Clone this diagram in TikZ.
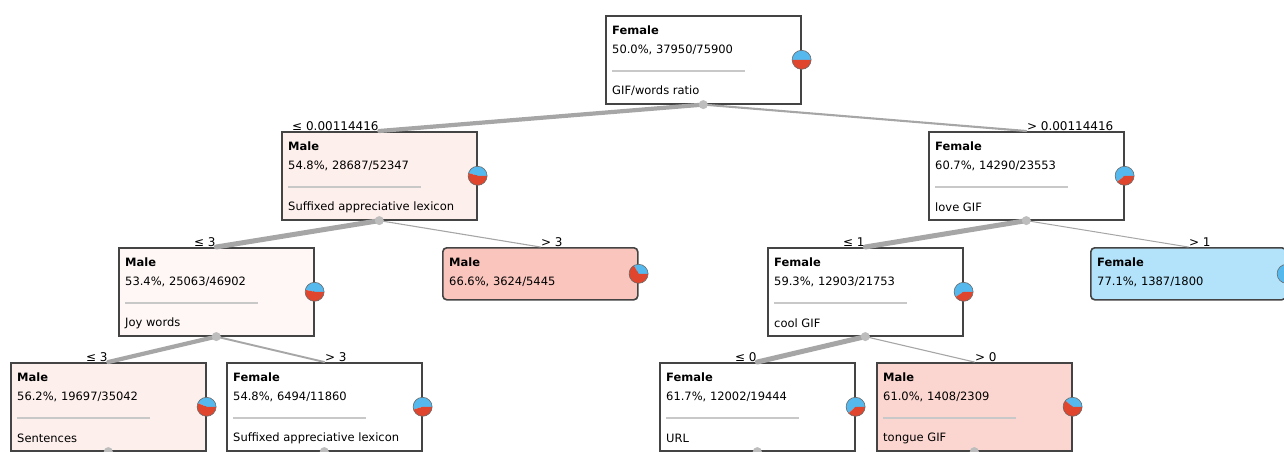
\documentclass[tikz,border=0pt]{standalone}
\usepackage{fontspec}
\setmainfont{DejaVu Sans}
\usepackage{tikz}
\usetikzlibrary{calc}
\usetikzlibrary{positioning}

\definecolor{edgegray}{HTML}{A6A6A6}
\definecolor{dotgray}{HTML}{BDBDBD}
\definecolor{boxline}{HTML}{444444}
\definecolor{sepgray}{HTML}{C8C8C8}
\definecolor{pieblue}{HTML}{55B9EE}
\definecolor{piered}{HTML}{E0452D}
\definecolor{malefaint}{HTML}{FEF7F6}
\definecolor{malelight}{HTML}{FDEFEC}
\definecolor{malemid}{HTML}{FBD6D0}
\definecolor{malestrong}{HTML}{F9C5BD}
\definecolor{femalestrong}{HTML}{B3E3FA}

\tikzset{
  every node/.style={font=\fontsize{11.5}{13}\selectfont},
  split/.style={draw=boxline,line width=1.6pt,fill=white,minimum width=195pt,
    minimum height=88pt,inner sep=0pt,anchor=north west},
  leaf/.style={split,rounded corners=4pt,minimum height=52pt},
  cls/.style={anchor=west,inner sep=0pt,font=\fontsize{11.5}{13}\selectfont\bfseries},
  txt/.style={anchor=west,inner sep=0pt},
  branch/.style={draw=edgegray,line cap=round},
  cut/.style={inner sep=0.5pt,font=\fontsize{12}{13}\selectfont},
}

% text inside one box: name, class, stats, attribute
\newcommand{\boxtext}[4]{%
  \node[cls] (#1-cls) at ($(#1.north west)+(7,-15)$) {#2};
  \node[txt] (#1-pct) at ($(#1.north west)+(7,-35)$) {#3};
  \ifx&#4&\else
    \draw[sepgray,line width=1.4pt] ($(#1.north west)+(7,-56)$) -- ($(#1.north west)+(140,-56)$);
    \node[txt] (#1-att) at ($(#1.north west)+(7,-76)$) {#4};
  \fi
}
% pie on the right side: name, female share in degrees
\newcommand{\genderpie}[2]{%
  \fill[pieblue] (#1.east) -- ++(0:9.5pt) arc (0:#2:9.5pt) -- cycle;
  \fill[piered] (#1.east) -- ++(#2:9.5pt) arc (#2:360:9.5pt) -- cycle;
  \draw[boxline!80,line width=0.6pt] (#1.east) circle (9.5pt);
}

\begin{document}
\begin{tikzpicture}[x=1pt,y=1pt]
\useasboundingbox (0,0) rectangle (1284,-452);
\clip (0,0) rectangle (1284,-452);

% boxes
\node[split] (n0) at (605,-15) {};
\node[split,fill=malelight] (n1) at (281,-131) {};
\node[split] (n2) at (928,-131) {};
\node[split,fill=malefaint] (n11) at (118,-247) {};
\node[leaf,fill=malestrong] (n12) at (442,-247) {};
\node[split] (n21) at (767,-247) {};
\node[leaf,fill=femalestrong] (n22) at (1090,-247) {};
\node[split,fill=malelight] (n111) at (10,-362) {};
\node[split] (n112) at (226,-362) {};
\node[split] (n211) at (659,-362) {};
\node[split,fill=malemid] (n212) at (876,-362) {};

% branches
\draw[branch,line width=4.2pt] (n0.south) -- (n1.north);
\draw[branch,line width=2.1pt] (n0.south) -- (n2.north);
\draw[branch,line width=5pt] (n1.south) -- (n11.north);
\draw[branch,line width=1.1pt] (n1.south) -- (n12.north);
\draw[branch,line width=5pt] (n2.south) -- (n21.north);
\draw[branch,line width=1pt] (n2.south) -- (n22.north);
\draw[branch,line width=4.2pt] (n11.south) -- (n111.north);
\draw[branch,line width=1.9pt] (n11.south) -- (n112.north);
\draw[branch,line width=5pt] (n21.south) -- (n211.north);
\draw[branch,line width=1.1pt] (n21.south) -- (n212.north);
\foreach \n in {n0,n1,n2,n11,n21,n111,n112,n211,n212}
  \fill[dotgray] (\n.south) circle (4.5pt);

% branch labels
\node[cut,anchor=south east] (c1) at (n1.north) {≤ 0.00114416};
\node[cut,anchor=south west] (c2) at (n2.north) {> 0.00114416};
\node[cut,anchor=south east] (c11) at (n11.north) {≤ 3};
\node[cut,anchor=south west] (c12) at (n12.north) {> 3};
\node[cut,anchor=south east] (c21) at (n21.north) {≤ 1};
\node[cut,anchor=south west] (c22) at (n22.north) {> 1};
\node[cut,anchor=south east] (c111) at (n111.north) {≤ 3};
\node[cut,anchor=south west] (c112) at (n112.north) {> 3};
\node[cut,anchor=south east] (c211) at (n211.north) {≤ 0};
\node[cut,anchor=south west] (c212) at (n212.north) {> 0};

% texts
\boxtext{n0}{Female}{50.0\%, 37950/75900}{GIF/words ratio}
\boxtext{n1}{Male}{54.8\%, 28687/52347}{Suffixed appreciative lexicon}
\boxtext{n2}{Female}{60.7\%, 14290/23553}{love GIF}
\boxtext{n11}{Male}{53.4\%, 25063/46902}{Joy words}
\boxtext{n12}{Male}{66.6\%, 3624/5445}{}
\boxtext{n21}{Female}{59.3\%, 12903/21753}{cool GIF}
\boxtext{n22}{Female}{77.1\%, 1387/1800}{}
\boxtext{n111}{Male}{56.2\%, 19697/35042}{Sentences}
\boxtext{n112}{Female}{54.8\%, 6494/11860}{Suffixed appreciative lexicon}
\boxtext{n211}{Female}{61.7\%, 12002/19444}{URL}
\boxtext{n212}{Male}{61.0\%, 1408/2309}{tongue GIF}

% pies
\genderpie{n0}{180}
\genderpie{n1}{163}
\genderpie{n2}{219}
\genderpie{n11}{168}
\genderpie{n12}{120}
\genderpie{n21}{213}
\genderpie{n22}{278}
\genderpie{n111}{158}
\genderpie{n112}{197}
\genderpie{n211}{222}
\genderpie{n212}{140}

\end{tikzpicture}
\end{document}
